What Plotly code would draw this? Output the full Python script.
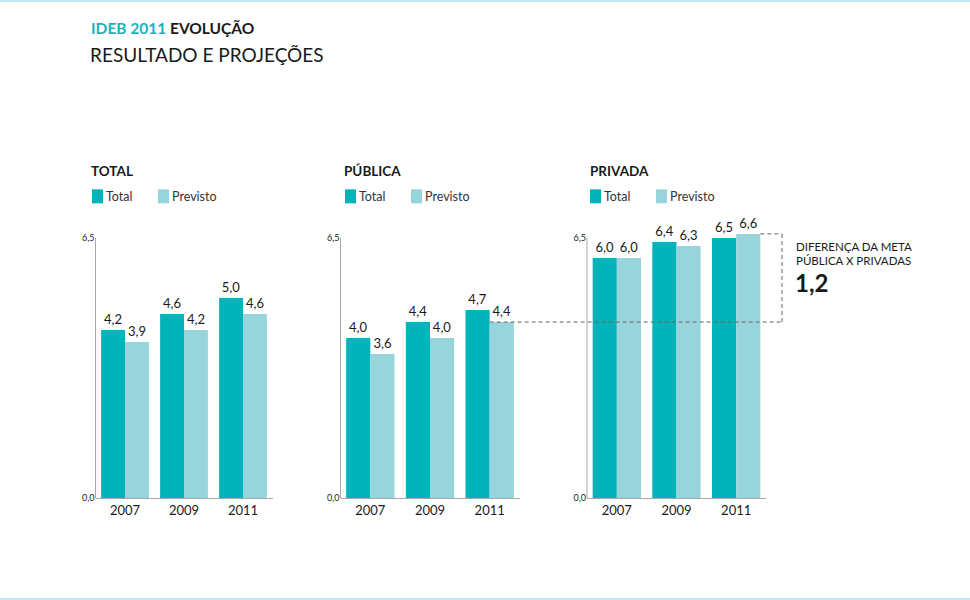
import plotly.graph_objects as go

YEARS = ["2007", "2009", "2011"]
PANELS = ["TOTAL", "PÚBLICA", "PRIVADA"]
TOTAL_REAL = [4.2, 4.6, 5.0]
TOTAL_PREV = [3.9, 4.2, 4.6]
PUBLICA_REAL = [4.0, 4.4, 4.7]
PUBLICA_PREV = [3.6, 4.0, 4.4]
PRIVADA_REAL = [6.0, 6.4, 6.5]
PRIVADA_PREV = [6.0, 6.3, 6.6]
SERIES_NAMES = ["Total", "Previsto"]
Y_TICKS = [0, 6.5]
Y_TICKTEXT = ["0,0", "6,5"]
NOTE_LINES = ["DIFERENÇA DA META", "PÚBLICA X PRIVADAS"]
NOTE_VALUE = "1,2"

REAL = [TOTAL_REAL, PUBLICA_REAL, PRIVADA_REAL]
PREV = [TOTAL_PREV, PUBLICA_PREV, PRIVADA_PREV]

W, H = 970, 600          # reference picture size (positions below are in these pixels)
H_LAYOUT = 606           # rendered height (compensates the vertical squeeze of the capture)
TEAL = "#00B4B9"
LIGHT = "#98D4DC"
TXT = "#1a1a1a"
FONT = "Lato"


def px(x):
    return x / W


def py(y):
    return 1 - y / H


def fmt(v):
    return f"{v:.1f}".replace(".", ",")


# panel x domains (pixels)
DOM_PX = [(95.5, 272.5), (340.5, 519.5), (587, 766)]
Y_DOM = [py(497.5), py(197.5)]
Y_RANGE = [0, 7.5]

fig = go.Figure()
for i in range(3):
    xa = "x" if i == 0 else f"x{i+1}"
    ya = "y" if i == 0 else f"y{i+1}"
    for vals, name, col in [(REAL[i], SERIES_NAMES[0], TEAL), (PREV[i], SERIES_NAMES[1], LIGHT)]:
        fig.add_trace(go.Bar(
            x=YEARS, y=vals, name=name, marker=dict(color=col, line=dict(width=0)),
            text=[fmt(v) for v in vals], textposition="outside", cliponaxis=False,
            textfont=dict(size=13, color=TXT, family=FONT),
            xaxis=xa, yaxis=ya, showlegend=False, hoverinfo="skip",
        ))

layout = dict(
    width=W, height=H_LAYOUT, autosize=False, margin=dict(l=0, r=0, t=0, b=0),
    paper_bgcolor="white", plot_bgcolor="white",
    barmode="group", bargap=0.19, bargroupgap=0,
    font=dict(family=FONT, color=TXT),
)
for i in range(3):
    suf = "" if i == 0 else str(i + 1)
    d0, d1 = DOM_PX[i]
    layout[f"xaxis{suf}"] = dict(
        domain=[px(d0), px(d1)], type="category", range=[-0.5, 2.5],
        showline=True, linecolor="#A8A8A8", linewidth=1, ticks="",
        showgrid=False, zeroline=False, anchor=f"y{suf}",
        tickfont=dict(size=13, color=TXT, family=FONT), fixedrange=True,
    )
    layout[f"yaxis{suf}"] = dict(
        domain=Y_DOM, range=Y_RANGE, showline=False, showgrid=False, zeroline=False,
        tickvals=Y_TICKS, ticktext=Y_TICKTEXT, ticks="", anchor=f"x{suf}",
        tickfont=dict(size=9, color=TXT, family=FONT), fixedrange=True,
    )
fig.update_layout(**layout)

shapes = []
annotations = []

# top and bottom rules
shapes.append(dict(type="rect", xref="paper", yref="paper", x0=0, x1=1, y0=py(2), y1=py(0),
                   fillcolor="#C3E9F2", line=dict(width=0), layer="above"))
shapes.append(dict(type="rect", xref="paper", yref="paper", x0=0, x1=1, y0=py(600), y1=py(597),
                   fillcolor="#C3E9F2", line=dict(width=0), layer="above"))

# y-axis vertical lines 0..6.5
for i in range(3):
    suf = "" if i == 0 else str(i + 1)
    shapes.append(dict(type="line", xref=f"x{suf} domain", yref=f"y{suf}",
                       x0=0, x1=0, y0=Y_TICKS[0], y1=Y_TICKS[-1],
                       line=dict(color="#A8A8A8", width=1)))

# titles
annotations.append(dict(xref="paper", yref="paper", x=px(89), y=py(28), xanchor="left", yanchor="middle",
                        showarrow=False, font=dict(size=15.5, family=FONT, color=TXT),
                        text="<b><span style='color:#18B4BE'>IDEB 2011</span> EVOLUÇÃO</b>"))
annotations.append(dict(xref="paper", yref="paper", x=px(88), y=py(54), xanchor="left", yanchor="middle",
                        showarrow=False, font=dict(size=19, family=FONT, color=TXT),
                        text="RESULTADO E PROJEÇÕES"))

# panel titles and legends
TITLE_X = [89, 342, 588]
LEG_X = [92, 345, 590]
for i in range(3):
    annotations.append(dict(xref="paper", yref="paper", x=px(TITLE_X[i]), y=py(171),
                            xanchor="left", yanchor="middle", showarrow=False,
                            font=dict(size=13.5, family=FONT, color=TXT), text=f"<b>{PANELS[i]}</b>"))
    for k, (name, col) in enumerate(zip(SERIES_NAMES, [TEAL, LIGHT])):
        lx = LEG_X[i] + 66 * k
        shapes.append(dict(type="rect", xref="paper", yref="paper",
                           x0=px(lx), x1=px(lx + 11), y0=py(203), y1=py(189),
                           fillcolor=col, line=dict(width=0)))
        annotations.append(dict(xref="paper", yref="paper", x=px(lx + 11.5), y=py(196.5),
                                xanchor="left", yanchor="middle", showarrow=False,
                                font=dict(size=12.5, family=FONT, color="#333"), text=name))


# dashed comparison bracket
def xpaper(i, v):
    d0, d1 = DOM_PX[i]
    return px(d0 + (v + 0.5) / 3 * (d1 - d0))


bar_w = (1 - 0.19) / 2
dash = dict(color="#666666", width=1, dash="4px,3px")
x_start = xpaper(1, 2)            # left edge of PÚBLICA previsto 2011
x_bracket = px(782)
x_top = xpaper(2, 2 + bar_w)      # right edge of PRIVADA previsto 2011
y_low = PUBLICA_PREV[-1]
y_high = PRIVADA_PREV[-1]
shapes.append(dict(type="line", xref="paper", yref="y2", x0=x_start, x1=x_bracket,
                   y0=y_low, y1=y_low, line=dash, layer="above"))
shapes.append(dict(type="line", xref="paper", yref="y3", x0=x_bracket, x1=x_bracket,
                   y0=y_low, y1=y_high, line=dash, layer="above"))
shapes.append(dict(type="line", xref="paper", yref="y3", x0=x_top, x1=x_bracket,
                   y0=y_high, y1=y_high, line=dash, layer="above"))

annotations.append(dict(xref="paper", yref="paper", x=px(794), y=py(246), xanchor="left", yanchor="middle",
                        showarrow=False, font=dict(size=11.5, family=FONT, color=TXT), text=NOTE_LINES[0]))
annotations.append(dict(xref="paper", yref="paper", x=px(794), y=py(260.5), xanchor="left", yanchor="middle",
                        showarrow=False, font=dict(size=11.5, family=FONT, color=TXT), text=NOTE_LINES[1]))
annotations.append(dict(xref="paper", yref="paper", x=px(793), y=py(282), xanchor="left", yanchor="middle",
                        showarrow=False, font=dict(size=24, family=FONT, color=TXT), text=f"<b>{NOTE_VALUE}</b>"))

fig.update_layout(shapes=shapes, annotations=annotations)
fig.write_html("out.html", config={"displayModeBar": False, "responsive": False},
               post_script="document.body.style.margin='0';")
